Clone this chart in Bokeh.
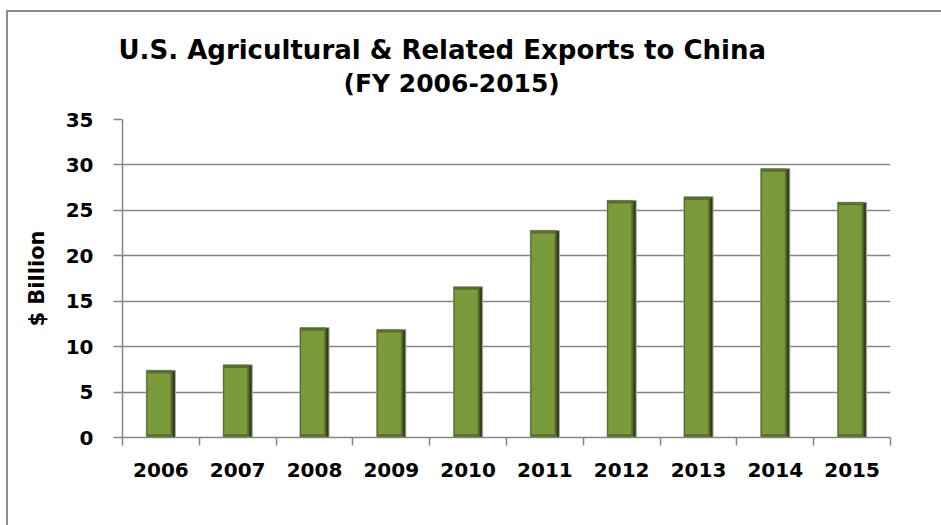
from bokeh.plotting import figure
from bokeh.models import Range1d, FixedTicker, Title, ColumnDataSource
from bokeh.transform import dodge
from bokeh.embed import file_html
from bokeh.resources import INLINE

years = ["2006", "2007", "2008", "2009", "2010", "2011", "2012", "2013", "2014", "2015"]
exports = [7.4, 8.0, 12.1, 11.9, 16.6, 22.8, 26.1, 26.5, 29.6, 25.9]
y_ticks = [0, 5, 10, 15, 20, 25, 30, 35]
title_line1 = "U.S. Agricultural & Related Exports to China"
title_line2 = "(FY 2006-2015)"
y_label = "$ Billion"

FONT = "DejaVu Sans"
GRID = "#868686"

xs = [i + 0.5 for i in range(len(years))]
bevel = 0.35
src = ColumnDataSource(dict(
    x=xs,
    top=exports,
    face_top=[v - bevel for v in exports],
    face_bottom=[bevel for _ in exports],
))

p = figure(width=941, height=525, output_backend="svg", toolbar_location=None,
           x_range=Range1d(0, len(years)), y_range=Range1d(0, 35),
           min_border_left=122, min_border_right=51, min_border_top=119,
           min_border_bottom=88)
p.border_fill_alpha = 0
p.background_fill_color = "white"
p.outline_line_color = None
p.styles = {
    "background": "linear-gradient(#8c8c8c,#8c8c8c) 6px 10px / 2px 520px no-repeat, "
                  "linear-gradient(#8c8c8c,#8c8c8c) 6px 10px / 940px 2px no-repeat, white"
}

# two-line title (added nearest-first), with a small spacer under it
spacer = Title(text=" ", text_font_size="12px", standoff=4)
t2 = Title(text=title_line2, align="left", offset=221, text_font=FONT,
           text_font_style="bold", text_font_size="25px", text_color="black", standoff=4)
t1 = Title(text=title_line1, align="left", offset=-4, text_font=FONT,
           text_font_style="bold", text_font_size="26px", text_color="black", standoff=0)
p.add_layout(spacer, "above")
p.add_layout(t2, "above")
p.add_layout(t1, "above")

# grid
p.xgrid.grid_line_color = None
p.ygrid.grid_line_color = GRID
p.ygrid.grid_line_width = 1.5
p.ygrid.ticker = FixedTicker(ticks=y_ticks)

# y axis
p.yaxis.ticker = FixedTicker(ticks=y_ticks)
p.yaxis.axis_line_color = GRID
p.yaxis.axis_line_width = 1.5
p.yaxis.major_tick_line_color = GRID
p.yaxis.major_tick_line_width = 1.5
p.yaxis.major_tick_out = 9
p.yaxis.major_tick_in = 0
p.yaxis.minor_tick_line_color = None
p.yaxis.major_label_text_font = FONT
p.yaxis.major_label_text_font_style = "bold"
p.yaxis.major_label_text_font_size = "20px"
p.yaxis.major_label_text_color = "black"
p.yaxis.major_label_standoff = 20
p.yaxis.axis_label = y_label
p.yaxis.axis_label_text_font = FONT
p.yaxis.axis_label_text_font_style = "bold"
p.yaxis.axis_label_text_font_size = "21px"
p.yaxis.axis_label_text_color = "black"
p.yaxis.axis_label_standoff = 14

# x axis: labels at centres, tick marks at category boundaries
p.xaxis.ticker = FixedTicker(ticks=xs, minor_ticks=list(range(len(years) + 1)))
p.xaxis.major_label_overrides = {x: y for x, y in zip(xs, years)}
p.xaxis.axis_line_color = GRID
p.xaxis.axis_line_width = 1.5
p.xaxis.major_tick_line_color = None
p.xaxis.major_tick_out = 0
p.xaxis.major_tick_in = 0
p.xaxis.minor_tick_line_color = GRID
p.xaxis.minor_tick_line_width = 1.5
p.xaxis.minor_tick_out = 8
p.xaxis.minor_tick_in = 0
p.xaxis.major_label_text_font = FONT
p.xaxis.major_label_text_font_style = "bold"
p.xaxis.major_label_text_font_size = "20px"
p.xaxis.major_label_text_color = "black"
p.xaxis.major_label_standoff = 17

# bars: dark base, mid shading, light face
p.vbar(x="x", top="top", bottom=0, width=0.38, source=src,
       fill_color="#34421a", line_color="#b0b0b0", line_width=1)
p.vbar(x=dodge("x", -0.02), top="top", bottom=0, width=0.34, source=src,
       fill_color="#56702a", line_color=None)
p.vbar(x=dodge("x", -0.025), top="face_top", bottom="face_bottom", width=0.30,
       source=src, fill_color="#7a9a3c", line_color=None)

open("out.html", "w").write(file_html(p, INLINE))
